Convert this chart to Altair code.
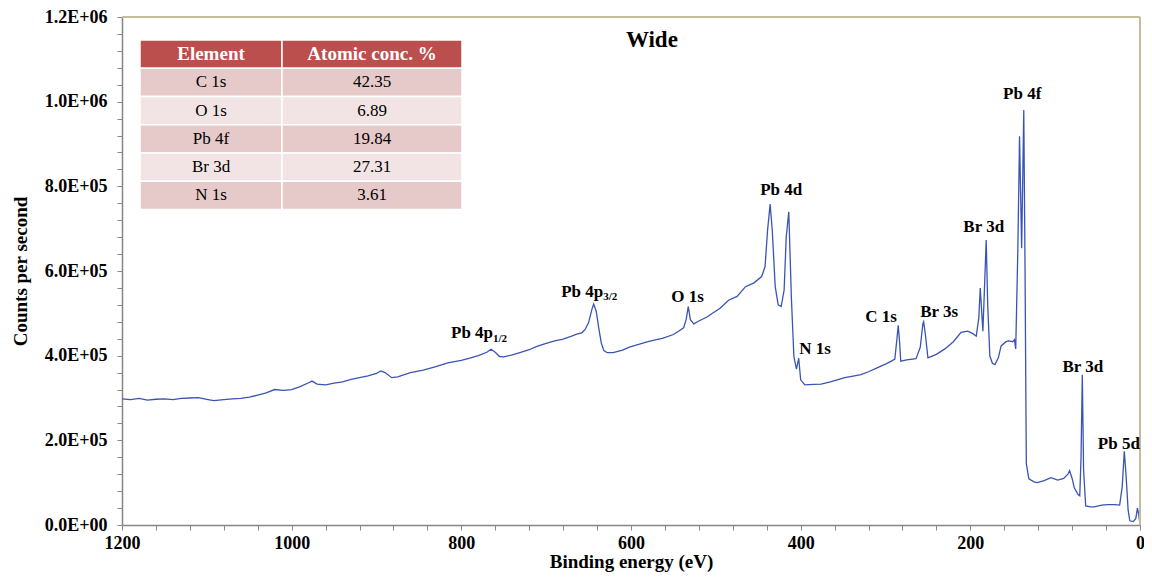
import altair as alt
import pandas as pd

# ---------------- data ----------------
energy = [1200, 1190, 1180, 1170, 1160, 1150, 1140, 1130, 1120, 1110, 1100, 1092, 1080, 1070,
          1060, 1050, 1040, 1030, 1020, 1010, 1000, 990, 980, 976, 970, 960, 950, 940, 930,
          920, 910, 900, 895, 890, 882, 875, 860, 845, 830, 816, 800, 790, 780, 770, 765,
          760, 755, 750, 740, 730, 720, 711, 700, 690, 680, 670, 664, 658, 654, 650, 646,
          644, 641, 638, 635, 632, 628, 621, 610, 602, 590, 580, 570, 563, 550, 543, 538,
          535, 532.5, 530, 526, 520, 510, 504, 495, 485, 475, 465, 455, 446, 442, 439, 436,
          433.5, 430, 426.5, 423, 419.5, 417, 414, 411, 408, 405, 402.3, 400, 395, 385, 376,
          365, 355, 348, 335, 329, 320, 310, 300, 293, 289, 286.5, 285, 283.5, 282, 275,
          264, 259, 256, 255, 253, 250, 240, 230, 220, 211, 203, 197, 193, 190, 188.3,
          186.5, 185.2, 183.5, 181.3, 179.5, 177, 174, 171, 167, 163.7, 158, 155, 150, 148,
          146.5, 144, 142, 139.5, 137, 135.5, 134, 131, 125, 121, 113, 105, 97, 90, 85, 83,
          80, 77.5, 73, 71, 69.5, 68, 66.5, 64, 58, 54, 45, 38, 30, 24, 21, 18.5, 16.5, 14,
          12, 8, 5, 3, 1.5, 0]
counts_e5 = [2.98, 2.96, 2.99, 2.95, 2.97, 2.98, 2.96, 2.99, 3.00, 3.01, 2.97, 2.94, 2.96, 2.98,
             2.99, 3.02, 3.07, 3.12, 3.20, 3.18, 3.20, 3.27, 3.36, 3.40, 3.33, 3.31, 3.35, 3.38, 3.44,
             3.48, 3.52, 3.58, 3.64, 3.60, 3.48, 3.50, 3.60, 3.66, 3.74, 3.83, 3.89, 3.94, 4.00, 4.08, 4.15,
             4.08, 3.98, 3.97, 4.02, 4.08, 4.14, 4.22, 4.29, 4.35, 4.39, 4.46, 4.51, 4.54, 4.62, 4.78, 5.10,
             5.22, 5.05, 4.65, 4.30, 4.12, 4.07, 4.07, 4.13, 4.20, 4.27, 4.33, 4.38, 4.41, 4.50, 4.59, 4.66,
             4.85, 5.16, 4.85, 4.75, 4.82, 4.92, 5.00, 5.12, 5.31, 5.40, 5.63, 5.72, 5.87, 6.10, 6.97, 7.58,
             6.97, 5.63, 5.20, 5.16, 5.55, 6.81, 7.40, 5.39, 3.98, 3.68, 3.94, 3.43, 3.31, 3.32, 3.33,
             3.38, 3.44, 3.48, 3.53, 3.55, 3.62, 3.71, 3.80, 3.87, 3.92, 4.40, 4.72, 4.35, 3.87, 3.90,
             3.93, 4.20, 4.75, 4.80, 4.50, 3.95, 4.03, 4.16, 4.33, 4.55, 4.58, 4.52, 4.46, 4.90, 5.60,
             5.00, 4.58, 5.50, 6.73, 5.20, 3.99, 3.82, 3.79, 3.95, 4.23, 4.33, 4.35, 4.33, 4.38,
             4.16, 6.50, 9.18, 6.54, 9.80, 6.00, 1.45, 1.09, 1.02, 1.00, 1.05, 1.12, 1.06, 1.10, 1.20, 1.28,
             1.10, 0.88, 0.72, 0.69, 1.60, 3.55, 1.30, 0.45, 0.43, 0.43, 0.47, 0.48, 0.48, 0.47, 0.90, 1.74, 1.20, 0.35,
             0.10, 0.08, 0.15, 0.40, 0.25, 0.0]

# peak labels (centred)
label_text = ["O 1s", "Pb 4d", "N 1s", "C 1s", "Br 3s", "Br 3d", "Pb 4f", "Br 3d", "Pb 5d"]
label_energy = [533.3, 423.0, 383.0, 305.3, 236.8, 184.2, 138.9, 67.3, 24.9]
label_counts = [5.38e5, 7.91e5, 4.15e5, 4.92e5, 5.04e5, 7.03e5, 1.017e6, 3.73e5, 1.91e5]

# labels with subscripts
sub_main = ["Pb 4p", "Pb 4p"]
sub_text = ["1/2", "3/2"]
sub_energy = [762.6, 632.7]
sub_main_counts = [4.54e5, 5.51e5]
sub_sub_counts = [4.39e5, 5.39e5]

chart_title = "Wide"
title_energy = [575.4]
title_counts = [1.146e6]

table_header = ["Element", "Atomic conc. %"]
table_element = ["C 1s", "O 1s", "Pb 4f", "Br 3d", "N 1s"]
table_conc = ["42.35", "6.89", "19.84", "27.31", "3.61"]

# ---------------- styling / layout ----------------
FONT = "Liberation Serif"
LINE_BLUE = "#3a54b4"
FRAME_TAN = "#c4bd97"
AXIS_GREY = "#868686"
W, H = 1018, 508

spec = pd.DataFrame({"E": energy, "C": [c * 1e5 for c in counts_e5]})
labels = pd.DataFrame({"t": label_text, "E": label_energy, "C": label_counts})
subm = pd.DataFrame({"t": sub_main, "E": sub_energy, "C": sub_main_counts})
subs = pd.DataFrame({"t": sub_text, "E": sub_energy, "C": sub_sub_counts})
ttl = pd.DataFrame({"t": [chart_title], "E": title_energy, "C": title_counts})

xscale = alt.Scale(domain=[0, 1200], reverse=True, nice=False, zero=False)
yscale = alt.Scale(domain=[0, 1200000], nice=False)

y_label_expr = ("datum.value % 200000 == 0 ? (datum.value == 0 ? '0.0E+00' : "
                "(datum.value >= 1000000 ? format(datum.value/1000000, '.1f') + 'E+06' : "
                "format(datum.value/100000, '.1f') + 'E+05')) : ''")

x_axis = alt.Axis(values=list(range(0, 1201, 40)),
                  labelExpr="datum.value % 200 == 0 ? format(datum.value, 'd') : ''",
                  grid=False, tickSize=5, tickColor=AXIS_GREY, domainColor=AXIS_GREY,
                  domainWidth=1.5, tickWidth=1, labelFont=FONT, labelFontWeight="bold",
                  labelFontSize=18, labelColor="black", labelPadding=4, labelFlush=False,
                  labelOverlap=False,
                  title="Binding energy (eV)", titleFont=FONT, titleFontSize=19,
                  titleFontWeight="bold", titleColor="black", titleY=36, titleBaseline="middle")
y_axis = alt.Axis(values=list(range(0, 1200001, 40000)), labelExpr=y_label_expr,
                  grid=False, tickSize=5, tickColor=AXIS_GREY, domainColor=AXIS_GREY,
                  domainWidth=1.5, tickWidth=1, labelFont=FONT, labelFontWeight="bold",
                  labelFontSize=18, labelColor="black", labelPadding=10, labelFlush=False,
                  labelOverlap=False,
                  title="Counts per second", titleFont=FONT, titleFontSize=19,
                  titleFontWeight="bold", titleColor="black", titleX=-102, titleY=H / 2,
                  titleAngle=-90, titleBaseline="middle", titleAlign="center")

XA = alt.X("E:Q", scale=xscale, axis=x_axis)
YA = alt.Y("C:Q", scale=yscale, axis=y_axis)

line = alt.Chart(spec).mark_line(color=LINE_BLUE, strokeWidth=1.3).encode(x=XA, y=YA)

top_rule = alt.Chart(ttl).mark_rule(color=FRAME_TAN, strokeWidth=2).encode(
    y=alt.Y(datum=1200000, scale=yscale, axis=y_axis))
right_rule = alt.Chart(ttl).mark_rule(color=FRAME_TAN, strokeWidth=2).encode(
    x=alt.X(datum=0, scale=xscale, axis=x_axis))

txt_kw = dict(font=FONT, fontWeight="bold", fontSize=17, color="black", baseline="middle")
peak_lbl = alt.Chart(labels).mark_text(align="center", **txt_kw).encode(
    x=XA, y=YA, text="t:N")
sub_main_lbl = alt.Chart(subm).mark_text(align="right", **txt_kw).encode(
    x=XA, y=YA, text="t:N")
sub_lbl = alt.Chart(subs).mark_text(align="left", font=FONT, fontWeight="bold", fontSize=11,
                                    color="black", baseline="middle").encode(
    x=XA, y=YA, text="t:N")
title_lbl = alt.Chart(ttl).mark_text(align="center", font=FONT, fontWeight="bold", fontSize=23,
                                     color="black", baseline="middle").encode(
    x=XA, y=YA, text="t:N")

main = alt.layer(line, top_rule, right_rule, peak_lbl, sub_main_lbl, sub_lbl, title_lbl)

# ---------------- inset table (pixel layout inside the plot area) ----------------
TX0, TXS, TX1 = 18, 160, 340
TY0, ROW_H = 23, 28.25
rows = []
all_rows = [table_header] + [[e, c] for e, c in zip(table_element, table_conc)]
for r, (a, b) in enumerate(all_rows):
    if r == 0:
        fill, tcol = "#bb4f4e", "white"
    elif r % 2 == 1:
        fill, tcol = "#e6caca", "black"
    else:
        fill, tcol = "#f2e4e4", "black"
    for c, (val, x0, x1) in enumerate([(a, TX0, TXS), (b, TXS, TX1)]):
        rows.append({"x0": x0, "x1": x1, "xc": (x0 + x1) / 2,
                     "y0": TY0 + r * ROW_H, "y1": TY0 + (r + 1) * ROW_H,
                     "yc": TY0 + (r + 0.5) * ROW_H, "fill": fill, "tcol": tcol,
                     "txt": val, "hdr": r == 0})
tbl = pd.DataFrame(rows)

cells = alt.Chart(tbl).mark_rect(stroke="white", strokeWidth=1.5).encode(
    x=alt.X("x0:Q", scale=None, axis=None), x2="x1:Q",
    y=alt.Y("y0:Q", scale=None, axis=None), y2="y1:Q",
    fill=alt.Fill("fill:N", scale=None),
)
hdr_txt = alt.Chart(tbl).transform_filter("datum.hdr").mark_text(
    font=FONT, fontWeight="bold", fontSize=19, baseline="middle", align="center").encode(
    x=alt.X("xc:Q", scale=None, axis=None), y=alt.Y("yc:Q", scale=None, axis=None),
    text="txt:N", color=alt.Color("tcol:N", scale=None))
body_txt = alt.Chart(tbl).transform_filter("!datum.hdr").mark_text(
    font=FONT, fontSize=17, baseline="middle", align="center").encode(
    x=alt.X("xc:Q", scale=None, axis=None), y=alt.Y("yc:Q", scale=None, axis=None),
    text="txt:N", color=alt.Color("tcol:N", scale=None))

table = alt.layer(cells, hdr_txt, body_txt)

chart = alt.layer(main, table).resolve_scale(x="independent", y="independent").properties(
    width=W, height=H,
    autosize=alt.AutoSizeParams(type="none"),
    padding={"left": 114, "top": 9, "right": 4, "bottom": 48},
    background="white",
).configure_view(stroke=None).configure_axis(labelOverlap=False)

chart.save("out.html", embed_options={"renderer": "svg", "actions": False})
